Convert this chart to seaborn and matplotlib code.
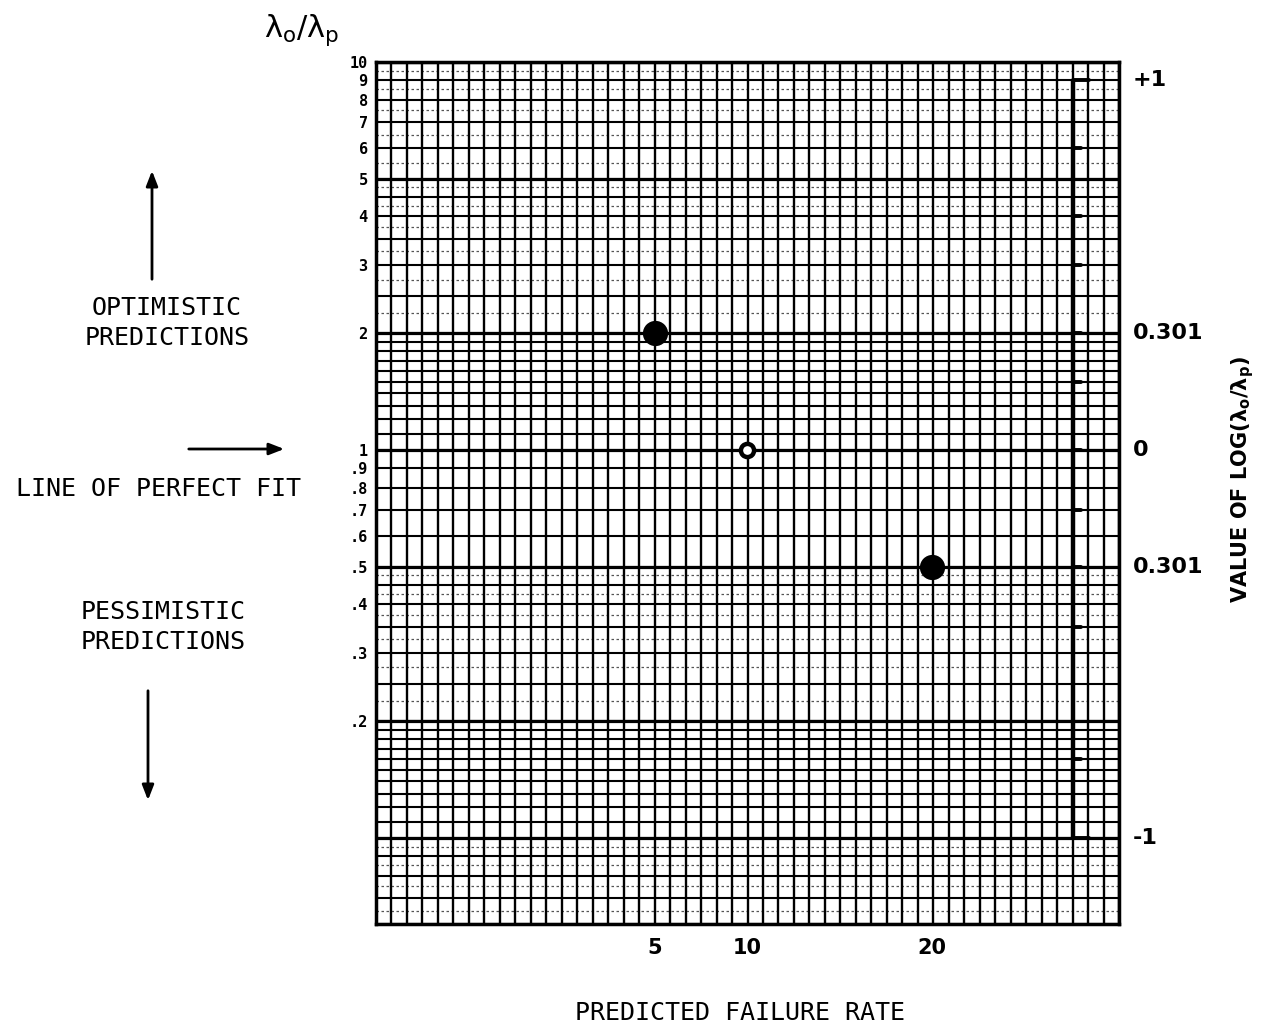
import numpy as np
import pandas as pd
import matplotlib
matplotlib.use("Agg")
import matplotlib.pyplot as plt
import seaborn as sns

# ---------------- data ----------------
predicted_rate = [5, 10, 20]
ratio_obs_pred = [2.0, 1.0, 0.5]
marker_kind = ["filled", "open", "filled"]

y_tick_values = [10, 9, 8, 7, 6, 5, 4, 3, 2, 1, 0.9, 0.8, 0.7, 0.6, 0.5, 0.4, 0.3, 0.2]
y_tick_labels = ["10", "9", "8", "7", "6", "5", "4", "3", "2", "1",
                 ".9", ".8", ".7", ".6", ".5", ".4", ".3", ".2"]
x_tick_values = [5, 10, 20]
x_tick_labels = ["5", "10", "20"]

right_scale_values = [9, 2, 1, 0.5, 0.1]
right_scale_labels = ["+1", "0.301", "0", "0.301", "-1"]
right_scale_ticks = [9, 6, 4, 3, 2, 1.5, 1, 0.7, 0.5, 0.35, 0.16, 0.1]

df = pd.DataFrame({"rate": predicted_rate, "ratio": ratio_obs_pred, "kind": marker_kind})

# ---------------- figure ----------------
sns.set_style("white")
plt.rcParams["font.family"] = ["DejaVu Sans"]
plt.rcParams["text.color"] = "black"
plt.rcParams["xtick.color"] = "black"
plt.rcParams["ytick.color"] = "black"
plt.rcParams["axes.labelcolor"] = "black"
W, H = 1276, 1030
fig = plt.figure(figsize=(W / 100, H / 100), dpi=100)

def fx(x):
    return x / W

def fy(y):
    return 1 - y / H

left, right, top, bottom = 376, 1119, 62, 924
ax = fig.add_axes([fx(left), fy(bottom), (right - left) / W, (bottom - top) / H])
ax.set_yscale("log")
XMIN, XMAX = -10.11, 30.13
ax.set_xlim(XMIN, XMAX)
ax.set_ylim(0.06, 10)

# graph-paper grid (styling)
h_minor = np.concatenate([
    np.arange(0.06, 0.2, 0.01),
    np.arange(0.2, 0.5, 0.05),
    np.arange(0.5, 1.0, 0.1),
    np.arange(1.0, 2.0, 0.1),
    np.arange(2.0, 5.0, 0.5),
    np.arange(5.0, 10.01, 1.0),
])
h_major = [0.1, 0.2, 0.5, 1, 2, 5, 10]
for yv in h_minor:
    ax.axhline(yv, color="black", lw=1.5, zorder=1)
for yv in h_major:
    ax.axhline(yv, color="black", lw=2.3, zorder=1)

# fine dotted texture lines
h_fine = np.concatenate([
    np.arange(0.065, 0.1, 0.01),
    np.arange(0.225, 0.5, 0.05),
    np.arange(2.25, 5.0, 0.5),
    np.arange(5.5, 10, 1.0),
])
for yv in h_fine:
    ax.axhline(yv, color="#555555", lw=0.9, ls=(0, (2, 2)), zorder=0.5)

grid_x = np.linspace(XMIN, XMAX, 49)
for xv in grid_x:
    ax.axvline(xv, color="black", lw=1.7, zorder=1)

for s in ax.spines.values():
    s.set_linewidth(2.5)
    s.set_color("black")

# right-hand log scale bar
scale_x = grid_x[45]
ax.plot([scale_x, scale_x], [min(right_scale_ticks), max(right_scale_ticks)],
        color="black", lw=3.2, zorder=3, solid_capstyle="butt")
dx = (XMAX - XMIN) / (right - left)
for t in right_scale_ticks:
    ln = 16 if t in (9, 0.1) else 8
    ax.plot([scale_x, scale_x + ln * dx], [t, t], color="black", lw=2.8, zorder=3)

# data points
sns.scatterplot(data=df[df["kind"] == "filled"], x="rate", y="ratio", ax=ax,
                s=330, color="black", edgecolor="black", linewidth=0, zorder=5, legend=False)
sns.scatterplot(data=df[df["kind"] == "open"], x="rate", y="ratio", ax=ax,
                s=90, facecolor="white", edgecolor="black", linewidth=3.2, zorder=5, legend=False)

# ticks
ax.yaxis.set_minor_locator(matplotlib.ticker.NullLocator())
ax.set_yticks(y_tick_values)
ax.set_yticklabels(y_tick_labels, fontsize=11, fontweight="bold", family="DejaVu Sans Mono",
                   color="black")
ax.tick_params(axis="y", length=0, pad=6)
ax.set_xticks(x_tick_values)
ax.set_xticklabels(x_tick_labels, fontsize=15, fontweight="bold", color="black")
ax.tick_params(axis="x", length=0, pad=10)
ax.set_xlabel("")
ax.set_ylabel("")

# right scale labels
for v, lab in zip(right_scale_values, right_scale_labels):
    ax.annotate(lab, xy=(1, v), xycoords=("axes fraction", "data"),
                xytext=(10, 0), textcoords="offset points", ha="left", va="center",
                fontsize=16, fontweight="bold", color="black")

fig.text(fx(1243), fy(480), r"VALUE OF LOG($\mathbf{\lambda_o/\lambda_p}$)",
         rotation=90, ha="center", va="center", fontsize=15, fontweight="bold", color="black")

fig.text(fx(740), fy(1013), "PREDICTED FAILURE RATE", ha="center", va="center",
         fontsize=18, family="DejaVu Sans Mono", color="black")

fig.text(fx(302), fy(30), r"$\mathrm{\lambda_o/\lambda_p}$", ha="center", va="center",
         fontsize=22, color="black")

mono = dict(family="DejaVu Sans Mono", fontsize=18, ha="center", va="center",
            linespacing=1.35, color="black")
fig.text(fx(167), fy(323), "OPTIMISTIC\nPREDICTIONS", **mono)
fig.text(fx(158), fy(489), "LINE OF PERFECT FIT", **mono)
fig.text(fx(163), fy(627), "PESSIMISTIC\nPREDICTIONS", **mono)

arrow = dict(arrowstyle="-|>,head_length=0.9,head_width=0.35", color="black", lw=2)
ax.annotate("", xy=(fx(152), fy(168)), xytext=(fx(152), fy(282)),
            xycoords="figure fraction", textcoords="figure fraction", arrowprops=arrow,
            annotation_clip=False)
ax.annotate("", xy=(fx(148), fy(803)), xytext=(fx(148), fy(688)),
            xycoords="figure fraction", textcoords="figure fraction", arrowprops=arrow,
            annotation_clip=False)
ax.annotate("", xy=(fx(287), fy(449)), xytext=(fx(186), fy(449)),
            xycoords="figure fraction", textcoords="figure fraction", arrowprops=arrow,
            annotation_clip=False)

fig.savefig("out.png", dpi=100)
